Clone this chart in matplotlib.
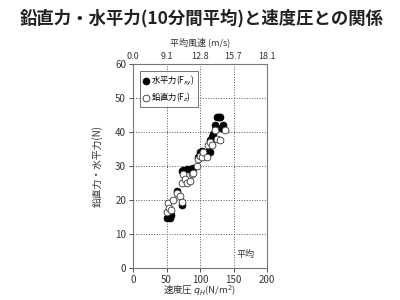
import matplotlib
matplotlib.use("Agg")
import matplotlib.pyplot as plt
import numpy as np

plt.rcParams['font.family'] = ['Noto Sans CJK JP', 'DejaVu Sans']

title = "鉛直力・水平力(10分間平均)と速度圧との関係"
xlabel = "速度圧 $q_H$(N/m$^2$)"
ylabel = "鉛直力・水平力(N)"
top_label = "平均風速 (m/s)"
top_ticks = [0, 50, 100, 150, 200]
top_ticklabels = ["0.0", "9.1", "12.8", "15.7", "18.1"]

q_fxy = [50, 52, 55, 57, 65, 73, 73, 75, 80, 85, 90, 97, 100, 103, 107, 110, 115, 115, 118, 120, 123, 125, 128, 130, 132, 135]
f_fxy = [14.8, 15.0, 14.8, 15.5, 22.5, 18.5, 28.5, 28.8, 29.0, 29.2, 29.5, 32.5, 34.0, 34.5, 33.5, 34.0, 34.2, 37.5, 38.5, 39.5, 42.0, 44.5, 44.5, 44.5, 41.0, 42.0]

q_fz = [50, 52, 53, 57, 60, 65, 70, 73, 73, 75, 78, 80, 85, 88, 90, 95, 97, 100, 103, 105, 110, 112, 115, 118, 122, 125, 130, 137]
f_fz = [16.5, 19.0, 17.5, 17.0, 20.0, 22.0, 21.0, 19.5, 25.0, 27.5, 26.0, 25.0, 25.5, 27.5, 28.0, 30.0, 32.0, 33.0, 32.5, 34.0, 32.5, 36.0, 37.0, 36.0, 40.5, 38.0, 37.5, 40.5]

fig = plt.figure(figsize=(4, 3), dpi=100)
ax = fig.add_axes([0.3325, 0.107, 0.335, 0.68])

ax.scatter(q_fxy, f_fxy, s=24, c='black', edgecolors='black', linewidths=0.6, zorder=3, label="水平力(F$_{xy}$)")
ax.scatter(q_fz, f_fz, s=24, c='white', edgecolors='#333333', linewidths=0.6, zorder=4, label="鉛直力(F$_z$)")

ax.set_xlim(0, 200)
ax.set_ylim(0, 60)
ax.set_xticks([0, 50, 100, 150, 200])
ax.set_yticks([0, 10, 20, 30, 40, 50, 60])
ax.grid(True, linestyle=':', color='#555555', linewidth=0.7)
ax.set_axisbelow(True)
for s in ax.spines.values():
    s.set_color('#777777')
    s.set_linewidth(0.8)
ax.tick_params(labelsize=7, colors='#333333', length=3, width=0.6, pad=2)
ax.set_xlabel(xlabel, fontsize=6.8, color='#333333', labelpad=-1)
ax.set_ylabel(ylabel, fontsize=7, color='#333333', labelpad=9)

ax2 = ax.twiny()
ax2.set_xlim(ax.get_xlim())
ax2.set_xticks(top_ticks)
ax2.set_xticklabels(top_ticklabels)
ax2.tick_params(labelsize=6.5, colors='#333333', length=0, pad=2)
ax2.set_xlabel(top_label, fontsize=6.5, color='#333333', labelpad=5)
for s in ax2.spines.values():
    s.set_visible(False)

leg = ax.legend(loc='upper left', fontsize=6, frameon=True, fancybox=False,
                edgecolor='#333333', handletextpad=0.2, borderpad=0.35,
                labelspacing=0.35, handlelength=0.8, borderaxespad=0.8)
leg.get_frame().set_linewidth(0.6)

ax.text(0.84, 0.065, "平均", transform=ax.transAxes, fontsize=6.5, color='#333333', ha='center', va='center')

fig.text(0.505, 0.94, title, fontsize=12.5, ha='center', va='center', color='#222222', weight='bold')

fig.savefig("out.png", dpi=100)
